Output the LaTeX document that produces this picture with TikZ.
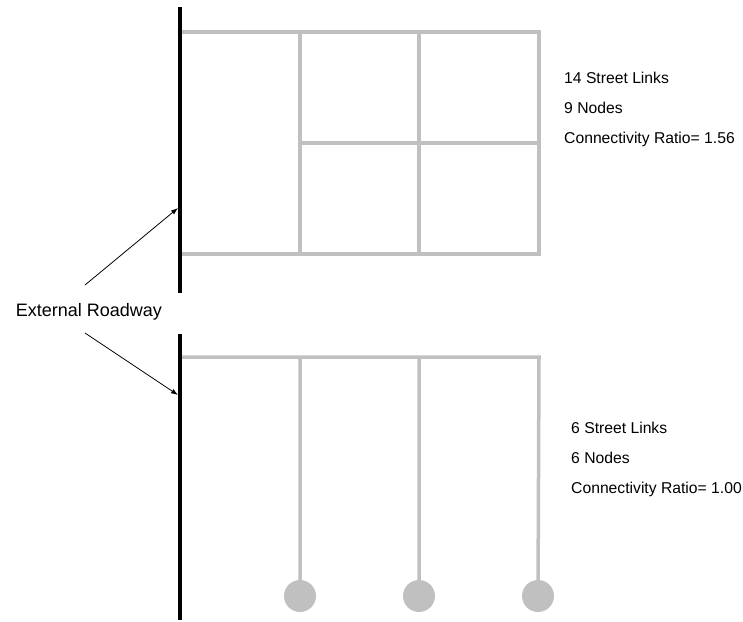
\documentclass[tikz,border=0pt]{standalone}
\usepackage{fontspec}
\setmainfont{Liberation Sans}
\usetikzlibrary{arrows.meta}

\definecolor{streetgray}{RGB}{192,192,192}

\begin{document}
\begin{tikzpicture}[x=1pt,y=-1pt,
    street/.style={draw=streetgray,line width=3.5pt,line join=miter},
    road/.style={draw=black,line width=3.5pt},
    pointer/.style={-{Latex[length=7pt,width=5pt]},line width=0.8pt},
    info/.style={anchor=base west,inner sep=0pt,font=\fontsize{15.7}{18}\selectfont},
    deadend/.style={circle,fill=streetgray,minimum size=32pt,inner sep=0pt}]
    \useasboundingbox (0,0) rectangle (743,621);

    % grid network
    \coordinate (a1) at (180,32);
    \coordinate (a2) at (300,32);
    \coordinate (a3) at (419,32);
    \coordinate (a4) at (539,32);
    \coordinate (b2) at (300,143);
    \coordinate (b4) at (539,143);
    \coordinate (c1) at (180,254);
    \coordinate (c2) at (300,254);
    \coordinate (c3) at (419,254);
    \coordinate (c4) at (539,254);

    \path[street]
    (a1) -- (a4) -- (c4) -- (c1)
    (b2) -- (b4)
    (a2) -- (c2)
    (a3) -- (c3);

    % cul-de-sac network
    \coordinate (d1) at (180,357);
    \coordinate (d2) at (300,357);
    \coordinate (d3) at (419,357);
    \coordinate (d4) at (539,357);
    \coordinate (e2) at (300,596);
    \coordinate (e3) at (419,596);
    \coordinate (e4) at (538,596);

    \path[street]
    (d1) -- (d4) -- (e4)
    (d2) -- (e2)
    (d3) -- (e3);
    \node[deadend] (s2) at (e2) {};
    \node[deadend] (s3) at (e3) {};
    \node[deadend] (s4) at (e4) {};

    % external roadway
    \coordinate (r1) at (180,7);
    \coordinate (r2) at (180,293);
    \coordinate (r3) at (180,334);
    \coordinate (r4) at (180,620);
    \draw[road] (r1) -- (r2);
    \draw[road] (r3) -- (r4);

    \node[info,anchor=base,font=\fontsize{18}{20}\selectfont] (ext) at (89,316) {External Roadway};
    \coordinate (p1) at (85,285);
    \coordinate (p2) at (85,333);
    \coordinate (t1) at (178,208);
    \coordinate (t2) at (178,395);
    \draw[pointer] (p1) -- (t1);
    \draw[pointer] (p2) -- (t2);

    % counts
    \node[info] (links1) at (564,83.5) {14 Street Links};
    \node[info] (nodes1) at (564,113.5) {9 Nodes};
    \node[info] (ratio1) at (564,143.5) {Connectivity Ratio= 1.56};

    \node[info] (links2) at (571,433.5) {6 Street Links};
    \node[info] (nodes2) at (571,463.5) {6 Nodes};
    \node[info] (ratio2) at (571,493.5) {Connectivity Ratio= 1.00};
  \end{tikzpicture}
\end{document}
